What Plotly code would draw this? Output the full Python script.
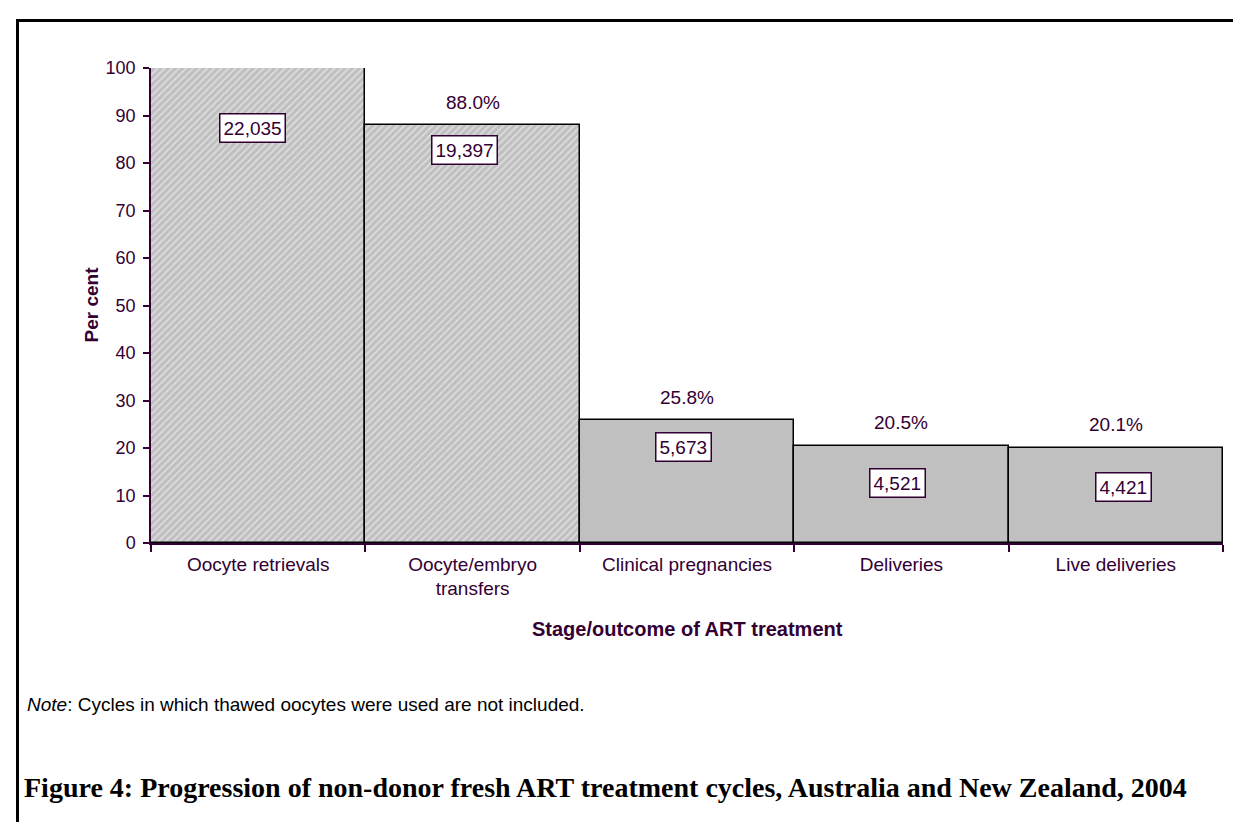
import plotly.graph_objects as go

# ---- data ----
categories = ["Oocyte retrievals", "Oocyte/embryo<br>transfers", "Clinical pregnancies", "Deliveries", "Live deliveries"]
percent = [100, 88.0, 25.8, 20.5, 20.1]
counts = [22035, 19397, 5673, 4521, 4421]
pct_labels = ["", "88.0%", "25.8%", "20.5%", "20.1%"]
y_ticks = list(range(0, 101, 10))

# ---- styling / placement ----
W, H = 1241, 822
L, R, T, B = 143, 26, 60, 287
PW, PH = W - L - R, H - T - B
TXT = "#330033"
FONT = "Liberation Sans, Arial, sans-serif"
patterns = ["/", "/", "", "", ""]
count_box_y = [87.4, 82.7, 20.2, 12.7, 11.8]
count_box_dx = [-6, -8, -4, -4, 8]


def px(x):
    return (x - L) / PW


def py(y):
    return (H - B - y) / PH


fig = go.Figure()
fig.add_trace(go.Bar(
    x=categories, y=percent,
    marker=dict(
        color="#C0C0C0",
        line=dict(color="black", width=1.5),
        pattern=dict(shape=patterns, bgcolor="#C0C0C0", fgcolor="white", size=5, solidity=0.3),
    ),
    hoverinfo="skip",
))

annotations = []
for cat, v, lab in zip(categories, percent, pct_labels):
    if lab:
        annotations.append(dict(x=cat, y=v, text=lab, showarrow=False, yanchor="middle",
                                yshift=23, font=dict(family=FONT, size=19, color=TXT)))
for cat, c, by, dx in zip(categories, counts, count_box_y, count_box_dx):
    annotations.append(dict(x=cat, y=by, text=f"{c:,}", showarrow=False, xshift=dx,
                            bgcolor="white", bordercolor=TXT, borderwidth=1.5, borderpad=3,
                            font=dict(family=FONT, size=19, color=TXT)))

annotations += [
    dict(xref="paper", yref="paper", x=px(70), y=py(297), text="<b>Per cent</b>", textangle=-90,
         showarrow=False, font=dict(family=FONT, size=19, color=TXT)),
    dict(xref="paper", yref="paper", x=px(679), y=py(634), text="<b>Stage/outcome of ART treatment</b>",
         showarrow=False, font=dict(family=FONT, size=20, color=TXT)),
    dict(xref="paper", yref="paper", x=px(17), y=py(709), xanchor="left",
         text="<i>Note</i>: Cycles in which thawed oocytes were used are not included.",
         showarrow=False, font=dict(family=FONT, size=19, color="black")),
    dict(xref="paper", yref="paper", x=px(14), y=py(797), xanchor="left",
         text="<b>Figure 4: Progression of non-donor fresh ART treatment cycles, Australia and New Zealand, 2004</b>",
         showarrow=False, font=dict(family="Liberation Serif, Times New Roman, serif", size=28, color="black")),
]

fig.update_layout(
    width=W, height=H,
    margin=dict(l=L, r=R, t=T, b=B),
    paper_bgcolor="white", plot_bgcolor="white",
    bargap=0, showlegend=False,
    annotations=annotations,
    shapes=[dict(type="rect", xref="paper", yref="paper",
                 x0=px(9.5), x1=px(1265), y0=py(12.5), y1=py(850),
                 line=dict(color="black", width=3), layer="above")],
)
fig.update_xaxes(
    showline=True, linecolor=TXT, linewidth=1.5,
    ticks="outside", ticklen=7, tickcolor=TXT, tickwidth=1.5, tickson="boundaries",
    ticklabelstandoff=3,
    tickfont=dict(family=FONT, size=19, color=TXT), showgrid=False,
)
fig.update_yaxes(
    range=[0, 100], tickvals=y_ticks, showline=True, linecolor=TXT, linewidth=1.5,
    ticks="outside", ticklen=6, tickcolor=TXT, tickwidth=1.5, ticklabelstandoff=4,
    tickfont=dict(family=FONT, size=18, color=TXT), showgrid=False, zeroline=False,
)

fig.write_html("out.html")
